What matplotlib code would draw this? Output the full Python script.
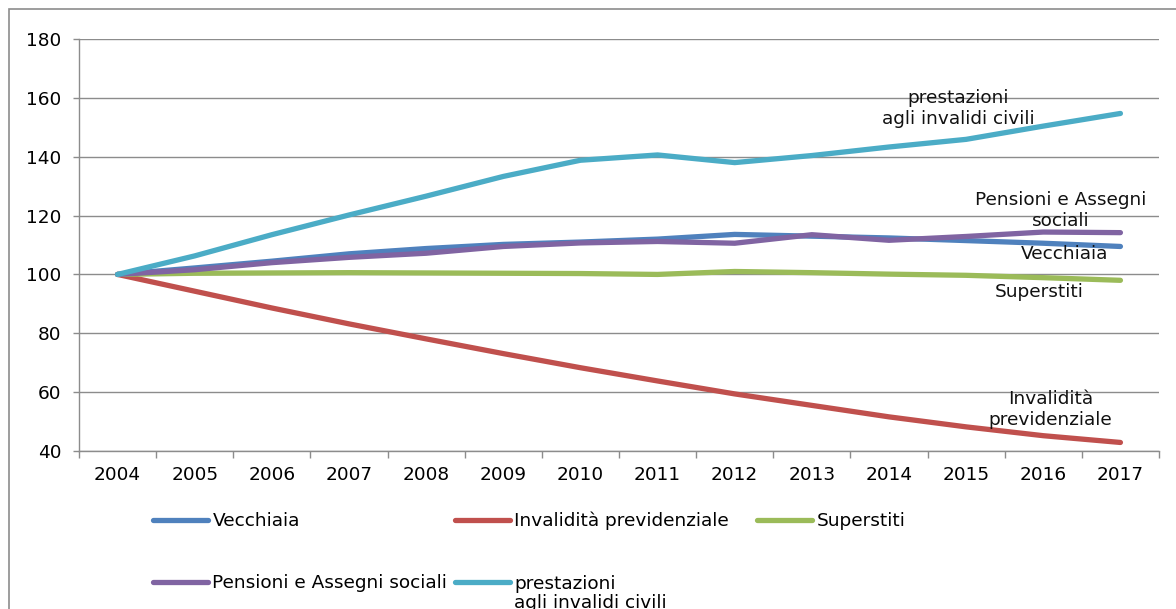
import matplotlib
matplotlib.use("Agg")
import matplotlib.pyplot as plt
from matplotlib.patches import Rectangle

anni = ["2004", "2005", "2006", "2007", "2008", "2009", "2010",
        "2011", "2012", "2013", "2014", "2015", "2016", "2017"]

vecchiaia = [100, 102.2, 104.5, 107.0, 108.8, 110.2, 111.0,
             112.0, 113.6, 113.0, 112.4, 111.5, 110.6, 109.5]
invalidita = [100, 94.3, 88.6, 83.2, 78.1, 73.1, 68.3,
              63.8, 59.4, 55.5, 51.6, 48.2, 45.2, 42.9]
superstiti = [100, 100.4, 100.5, 100.6, 100.5, 100.4, 100.3,
              100.0, 101.0, 100.6, 100.1, 99.7, 98.9, 98.0]
pensioni_sociali = [100, 101.6, 104.0, 105.8, 107.2, 109.5, 110.7,
                    111.2, 110.6, 113.5, 111.6, 112.9, 114.4, 114.2]
invalidi_civili = [100, 106.3, 113.5, 120.2, 126.6, 133.3, 138.8,
                   140.6, 138.0, 140.4, 143.3, 145.9, 150.4, 154.7]

serie = [
    ("Vecchiaia", vecchiaia, "#4F81BD"),
    ("Invalidità previdenziale", invalidita, "#C0504D"),
    ("Superstiti", superstiti, "#9BBB59"),
    ("Pensioni e Assegni sociali", pensioni_sociali, "#8064A2"),
    ("prestazioni\nagli invalidi civili", invalidi_civili, "#4BACC6"),
]

etichette = [
    ("prestazioni\nagli invalidi civili", 10.9, 156.4),
    ("Pensioni e Assegni\nsociali", 12.23, 121.7),
    ("Vecchiaia", 12.27, 107.1),
    ("Superstiti", 11.95, 93.9),
    ("Invalidità\nprevidenziale", 12.09, 54.1),
]

# colonne della legenda: (indici delle serie, x sinistra in px)
colonne_legenda = [([0, 3], 153), ([1, 4], 455), ([2], 757)]

plt.rcParams["font.family"] = ["DejaVu Sans"]
grigio = "#8c8c8c"
fs = 13.3

fig = plt.figure(figsize=(11.76, 6.09), dpi=100)
ax = fig.add_axes([79 / 1176, 1 - 451 / 609, (1159 - 79) / 1176, (451 - 39) / 609])

x = list(range(len(anni)))
linee = []
for nome, valori, colore in serie:
    (ln,) = ax.plot(x, valori, color=colore, lw=3.8, solid_capstyle="round",
                    solid_joinstyle="round")
    linee.append(ln)

ax.set_xlim(-0.5, len(anni) - 0.5)
ax.set_ylim(40, 180)
ax.set_yticks(range(40, 181, 20))
ax.set_xticks(x)
ax.set_xticklabels(anni)
ax.set_xticks([i - 0.5 for i in range(len(anni) + 1)], minor=True)
ax.tick_params(axis="x", which="major", length=0, pad=10.5, labelsize=fs)
ax.tick_params(axis="x", which="minor", length=5, width=1, color=grigio)
ax.tick_params(axis="y", length=4, width=1, color=grigio, pad=8.5, labelsize=fs)
ax.grid(axis="y", color=grigio, lw=1)
ax.set_axisbelow(True)
for s in ["top", "right"]:
    ax.spines[s].set_visible(False)
for s in ["left", "bottom"]:
    ax.spines[s].set_color(grigio)
    ax.spines[s].set_linewidth(1)

for testo, xt, yt in etichette:
    ax.text(xt, yt, testo, ha="center", va="center", fontsize=fs,
            linespacing=1.25, color="#111111")

# in legenda il simbolo sta sulla prima riga dell'etichetta, come in Excel
for indici, xpx in colonne_legenda:
    nomi = [serie[i][0].split("\n")[0] for i in indici]
    leg = fig.legend([linee[i] for i in indici], nomi,
                     loc="upper left", bbox_to_anchor=(xpx / 1176, 1 - 512 / 609),
                     frameon=False, fontsize=fs, handlelength=3.0, handletextpad=0.22,
                     labelspacing=2.4, borderpad=0, borderaxespad=0)
    for i in indici:
        righe = serie[i][0].split("\n")
        if len(righe) > 1:
            fig.text(514 / 1176, 1 - 603 / 609, "\n".join(righe[1:]),
                     ha="left", va="center", fontsize=fs)

fig.patches.append(Rectangle((9 / 1176, -0.1), 1.2, 1.1 - 9 / 609, transform=fig.transFigure,
                             fill=False, edgecolor=grigio, lw=1.2))

fig.savefig("out.png", dpi=100)
